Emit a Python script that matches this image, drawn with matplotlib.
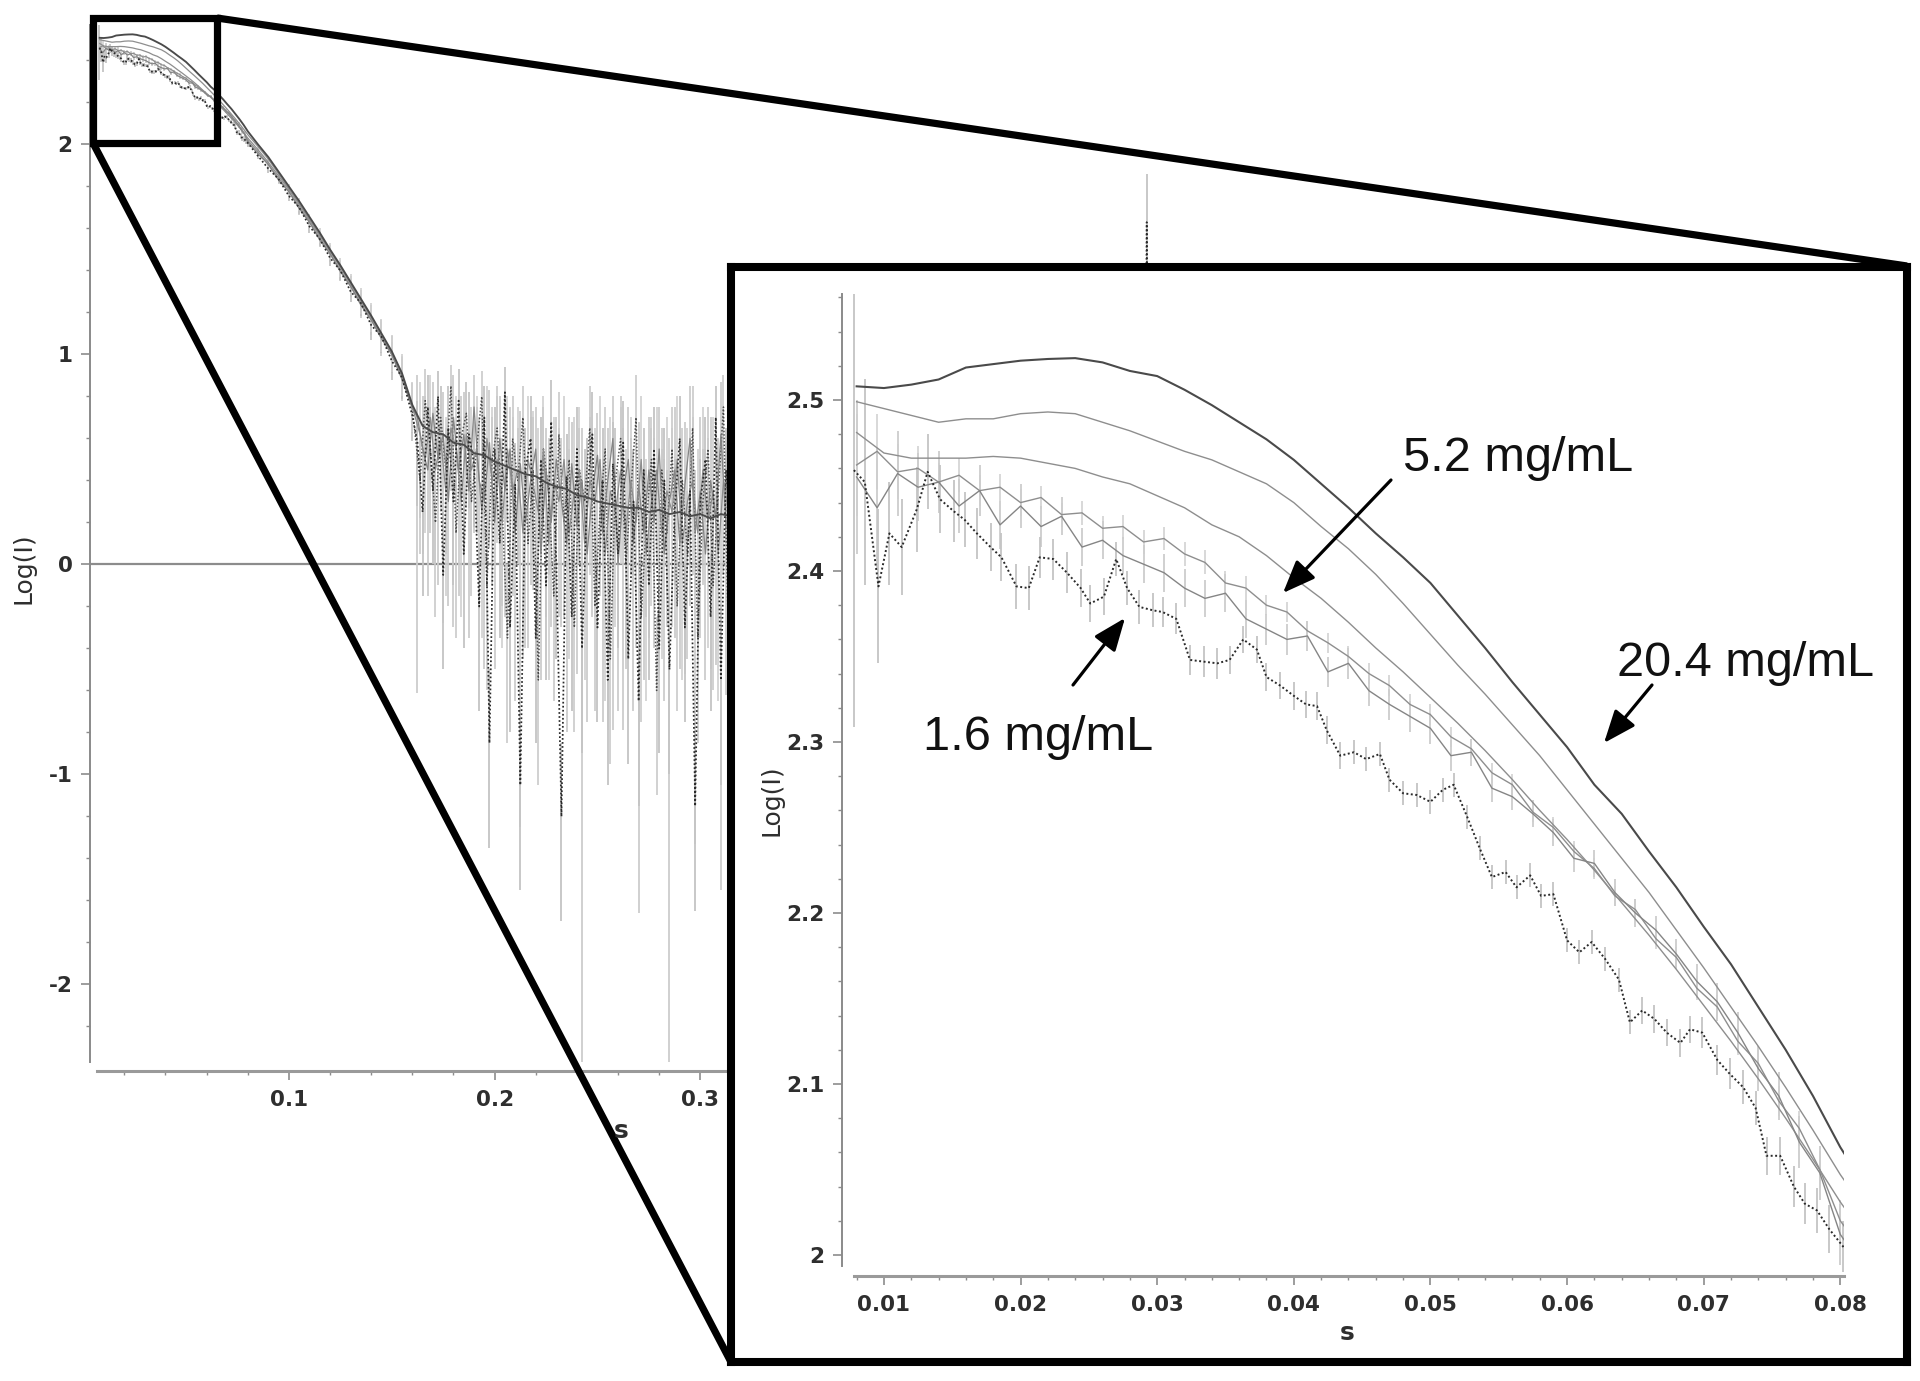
import numpy as np
import matplotlib
matplotlib.use('Agg')
import matplotlib.pyplot as plt
from matplotlib.ticker import FixedLocator, FuncFormatter
from matplotlib.patches import Rectangle, FancyArrowPatch
from matplotlib.lines import Line2D

plt.rcParams['axes.unicode_minus'] = False
plt.rcParams['font.family'] = ['DejaVu Sans']

W, H = 1920, 1381

# ---------------- data ----------------
conc_labels = ['5.2 mg/mL', '20.4 mg/mL', '1.6 mg/mL']

# three smooth high-concentration curves (inset range)
s_smooth = np.round(0.008 + 0.002 * np.arange(37), 4)
c1 = [2.508, 2.507, 2.509, 2.512, 2.519, 2.521, 2.523, 2.524, 2.5245, 2.522,
      2.517, 2.514, 2.506, 2.497, 2.487, 2.477, 2.465, 2.451, 2.437, 2.422,
      2.408, 2.393, 2.374, 2.355, 2.335, 2.316, 2.297, 2.275, 2.258, 2.236,
      2.215, 2.192, 2.170, 2.145, 2.120, 2.093, 2.063]
c2 = [2.499, 2.495, 2.491, 2.487, 2.489, 2.489, 2.492, 2.493, 2.492, 2.487,
      2.482, 2.476, 2.470, 2.465, 2.458, 2.451, 2.440, 2.426, 2.413, 2.398,
      2.381, 2.363, 2.345, 2.328, 2.310, 2.292, 2.272, 2.252, 2.232, 2.212,
      2.190, 2.168, 2.145, 2.122, 2.098, 2.073, 2.047]
c3 = [2.481, 2.469, 2.466, 2.466, 2.466, 2.467, 2.466, 2.463, 2.460, 2.455,
      2.451, 2.444, 2.437, 2.427, 2.420, 2.409, 2.396, 2.384, 2.370, 2.355,
      2.341, 2.326, 2.311, 2.295, 2.278, 2.260, 2.243, 2.225, 2.206, 2.187,
      2.167, 2.146, 2.125, 2.103, 2.080, 2.056, 2.031]

# two intermediate curves with error bars
s_grid4 = np.round(0.008 + 0.0015 * np.arange(49), 4)
c4 = [2.462, 2.470, 2.458, 2.460, 2.452, 2.456, 2.447, 2.449, 2.440, 2.443,
      2.433, 2.434, 2.425, 2.426, 2.417, 2.419, 2.410, 2.405, 2.393, 2.390,
      2.380, 2.376, 2.365, 2.358, 2.350, 2.340, 2.333, 2.322, 2.316, 2.303,
      2.296, 2.282, 2.275, 2.259, 2.250, 2.236, 2.226, 2.210, 2.202, 2.185,
      2.174, 2.156, 2.145, 2.125, 2.112, 2.090, 2.074, 2.050, 2.020]
c4_err = [0.030, 0.022, 0.016, 0.013, 0.011, 0.010, 0.009, 0.008, 0.008, 0.007,
          0.007, 0.007, 0.007, 0.007, 0.007, 0.007, 0.007, 0.007, 0.007, 0.007,
          0.006, 0.006, 0.006, 0.006, 0.006, 0.006, 0.006, 0.006, 0.006, 0.006,
          0.006, 0.006, 0.006, 0.006, 0.006, 0.006, 0.006, 0.006, 0.006, 0.006,
          0.006, 0.007, 0.007, 0.008, 0.008, 0.009, 0.010, 0.011, 0.012]
c5 = [2.455, 2.437, 2.457, 2.449, 2.452, 2.438, 2.447, 2.427, 2.438, 2.426,
      2.432, 2.414, 2.418, 2.409, 2.404, 2.399, 2.390, 2.384, 2.387, 2.372,
      2.366, 2.360, 2.362, 2.341, 2.346, 2.330, 2.322, 2.315, 2.308, 2.292,
      2.294, 2.273, 2.268, 2.258, 2.247, 2.232, 2.229, 2.212, 2.200, 2.190,
      2.176, 2.160, 2.148, 2.130, 2.109, 2.093, 2.066, 2.048, 2.012]
c5_err = [0.045, 0.035, 0.025, 0.020, 0.018, 0.016, 0.015, 0.014, 0.013, 0.012,
          0.011, 0.011, 0.011, 0.011, 0.011, 0.011, 0.011, 0.011, 0.011, 0.011,
          0.009, 0.009, 0.009, 0.009, 0.009, 0.009, 0.009, 0.009, 0.009, 0.009,
          0.008, 0.008, 0.008, 0.008, 0.008, 0.008, 0.008, 0.008, 0.008, 0.008,
          0.009, 0.010, 0.011, 0.012, 0.013, 0.014, 0.015, 0.016, 0.018]

# lowest concentration (1.6 mg/mL), dotted
s6 = [0.0078, 0.0086, 0.0096, 0.0104, 0.0113, 0.0124, 0.0132, 0.0141, 0.0151, 0.0159,
      0.0168, 0.0178, 0.0186, 0.0197, 0.0206, 0.0214, 0.0224, 0.0234, 0.0244, 0.0251,
      0.0261, 0.0270, 0.0278, 0.0287, 0.0297, 0.0304, 0.0314, 0.0324, 0.0334, 0.0344,
      0.0353, 0.0363, 0.0373, 0.0380, 0.0390, 0.0400, 0.0409, 0.0417, 0.0424, 0.0434,
      0.0444, 0.0453, 0.0463, 0.0470, 0.0480, 0.0490, 0.0500, 0.0509, 0.0517, 0.0527,
      0.0536, 0.0545, 0.0555, 0.0563, 0.0573, 0.0581, 0.0590, 0.0600, 0.0609, 0.0618,
      0.0628, 0.0638, 0.0646, 0.0655, 0.0664, 0.0673, 0.0683, 0.0690, 0.0699, 0.0710,
      0.0719, 0.0729, 0.0738, 0.0746, 0.0756, 0.0766, 0.0774, 0.0783, 0.0792, 0.0802]
c6 = [2.459, 2.452, 2.391, 2.422, 2.414, 2.436, 2.458, 2.442, 2.435, 2.430,
      2.422, 2.414, 2.408, 2.391, 2.390, 2.408, 2.407, 2.399, 2.390, 2.381,
      2.385, 2.407, 2.390, 2.379, 2.377, 2.376, 2.372, 2.348, 2.347, 2.346,
      2.348, 2.360, 2.354, 2.338, 2.333, 2.327, 2.322, 2.321, 2.307, 2.292,
      2.294, 2.290, 2.293, 2.278, 2.270, 2.269, 2.265, 2.272, 2.275, 2.256,
      2.238, 2.221, 2.224, 2.215, 2.222, 2.210, 2.211, 2.184, 2.177, 2.183,
      2.173, 2.161, 2.136, 2.143, 2.138, 2.130, 2.124, 2.132, 2.130, 2.114,
      2.106, 2.098, 2.086, 2.058, 2.058, 2.040, 2.030, 2.026, 2.015, 2.005]
c6_err = [0.150, 0.060, 0.045, 0.030, 0.028, 0.025, 0.022, 0.020, 0.018, 0.016,
          0.015, 0.014, 0.014, 0.013, 0.013, 0.012, 0.012, 0.012, 0.011, 0.011,
          0.011, 0.010, 0.010, 0.010, 0.010, 0.009, 0.009, 0.009, 0.009, 0.009,
          0.008, 0.008, 0.008, 0.008, 0.008, 0.008, 0.008, 0.008, 0.008, 0.008,
          0.007, 0.007, 0.007, 0.007, 0.007, 0.007, 0.007, 0.007, 0.007, 0.007,
          0.007, 0.007, 0.007, 0.007, 0.007, 0.007, 0.007, 0.007, 0.007, 0.007,
          0.007, 0.007, 0.007, 0.008, 0.008, 0.008, 0.008, 0.008, 0.009, 0.009,
          0.009, 0.010, 0.010, 0.011, 0.011, 0.012, 0.012, 0.013, 0.014, 0.015]

# steep part of the curve (main plot only)
s_mid = np.round(0.085 + 0.005 * np.arange(16), 4)
mid1 = [2.00, 1.94, 1.87, 1.80, 1.73, 1.655, 1.58, 1.50, 1.425, 1.345, 1.265, 1.185, 1.10, 1.015, 0.91, 0.76]
mid2 = [1.99, 1.93, 1.86, 1.79, 1.72, 1.645, 1.57, 1.495, 1.42, 1.34, 1.26, 1.18, 1.095, 1.01, 0.905, 0.755]
mid3 = [1.975, 1.915, 1.85, 1.785, 1.715, 1.64, 1.565, 1.49, 1.415, 1.335, 1.255, 1.175, 1.09, 1.005, 0.90, 0.75]
mid4 = [1.965, 1.905, 1.84, 1.775, 1.705, 1.63, 1.555, 1.48, 1.405, 1.325, 1.245, 1.165, 1.085, 1.00, 0.895, 0.745]
mid5 = [1.955, 1.905, 1.83, 1.775, 1.695, 1.63, 1.545, 1.48, 1.395, 1.325, 1.235, 1.165, 1.075, 1.00, 0.88, 0.745]
mid6 = [1.945, 1.885, 1.835, 1.755, 1.70, 1.61, 1.55, 1.46, 1.40, 1.30, 1.245, 1.14, 1.085, 0.97, 0.89, 0.71]
mid_err = [0.015, 0.02, 0.02, 0.025, 0.03, 0.03, 0.035, 0.04, 0.045, 0.05, 0.06, 0.07, 0.08, 0.09, 0.10, 0.12]

# noisy high-s region
s_tail_a = np.round(0.165 + 0.005 * np.arange(31), 4)
tail_a = [0.66, 0.63, 0.62, 0.58, 0.57, 0.53, 0.52, 0.49, 0.47, 0.45,
          0.43, 0.42, 0.39, 0.37, 0.36, 0.33, 0.32, 0.30, 0.29, 0.28,
          0.27, 0.27, 0.25, 0.26, 0.24, 0.25, 0.23, 0.24, 0.22, 0.24, 0.23]

s_tail = np.round(0.1625 + 0.0025 * np.arange(62), 5)
s_tail2 = np.round(0.16375 + 0.0025 * np.arange(62), 5)
tail_b = [0.70, 0.55, 0.45, 0.72, 0.50, 0.62, 0.30, 0.70, 0.45, 0.62,
          0.35, 0.75, 0.40, 0.30, 0.58, 0.20, 0.60, 0.35, 0.55, 0.15,
          0.48, 0.20, 0.40, 0.55, 0.05, 0.45, 0.20, 0.50, 0.30, 0.10,
          0.48, 0.18, 0.40, 0.05, 0.35, 0.52, 0.15, 0.40, 0.60, 0.00,
          0.35, 0.50, 0.10, 0.38, 0.15, 0.45, 0.20, 0.55, 0.05, 0.30,
          0.45, 0.10, 0.38, 0.60, 0.15, 0.35, 0.05, 0.40, 0.22, 0.62,
          0.18, 0.30]
tail_b_lo = [1.31, 0.5, 0.6, 0.5, 0.6, 0.9, 0.5, 1.0, 0.6, 0.5,
             0.7, 0.6, 0.5, 0.8, 0.5, 0.7, 0.5, 0.6, 0.5, 0.8,
             1.73, 0.6, 0.5, 0.99, 0.6, 0.7, 0.5, 0.8, 0.6, 0.9,
             0.6, 0.7, 2.77, 0.8, 0.6, 0.7, 0.9, 1.19, 1.39, 0.7,
             1.14, 0.6, 0.8, 2.04, 0.7, 0.8, 0.6, 0.9, 0.7, 2.67,
             0.8, 0.6, 0.9, 0.8, 1.48, 0.7, 0.6, 0.9, 0.7, 2.17,
             0.8, 0.7]
tail_b_hi = [0.2, 0.25, 0.3, 0.15, 0.25, 0.2, 0.35, 0.2, 0.3, 0.2,
             0.35, 0.15, 0.3, 0.4, 0.25, 0.45, 0.2, 0.3, 0.2, 0.4,
             0.25, 0.35, 0.3, 0.2, 0.45, 0.2, 0.35, 0.2, 0.3, 0.4,
             0.2, 0.35, 0.25, 0.45, 0.3, 0.2, 0.35, 0.25, 0.2, 0.45,
             0.3, 0.25, 0.4, 0.3, 0.35, 0.25, 0.4, 0.2, 0.45, 0.3,
             0.3, 0.45, 0.3, 0.25, 0.3, 0.35, 0.5, 0.3, 0.4, 0.25,
             0.4, 0.3]
tail_c = [0.58, 0.25, 0.75, 0.35, 0.80, -0.05, 0.65, 0.30, 0.78, 0.05,
          0.62, 0.48, -0.20, 0.70, -0.85, 0.55, 0.10, 0.82, -0.30, 0.38,
          -1.05, 0.45, 0.60, -0.35, 0.50, -0.10, 0.68, 0.00, -1.20, 0.42,
          -0.25, 0.55, -0.40, 0.35, 0.62, -0.30, 0.40, -0.55, 0.48, 0.05,
          0.58, -0.45, 0.30, -0.65, 0.45, -0.10, 0.55, -0.40, 0.40, -0.50,
          0.25, 0.60, -0.30, 0.35, -1.15, 0.30, 0.50, -0.25, 0.70, -0.55,
          0.45, 0.10]
tail_c_lo = [0.3, 0.4, 0.3, 0.35, 0.3, 0.45, 0.3, 0.4, 0.3, 0.45,
             0.35, 0.3, 0.5, 0.3, 0.5, 0.35, 0.45, 0.3, 0.5, 0.35,
             0.5, 0.35, 0.3, 0.5, 0.35, 0.45, 0.3, 0.45, 0.5, 0.35,
             0.45, 0.3, 0.5, 0.35, 0.3, 0.45, 0.35, 0.5, 0.35, 0.45,
             0.3, 0.5, 0.35, 0.5, 0.3, 0.45, 0.35, 0.5, 0.35, 0.5,
             0.35, 0.3, 0.45, 0.35, 0.5, 0.35, 0.3, 0.45, 0.3, 0.5,
             0.35, 0.4]
tail_c_hi = [0.2, 0.25, 0.15, 0.2, 0.12, 0.3, 0.2, 0.25, 0.15, 0.3,
             0.2, 0.2, 0.3, 0.15, 0.35, 0.2, 0.3, 0.12, 0.35, 0.2,
             0.35, 0.2, 0.2, 0.35, 0.2, 0.3, 0.2, 0.3, 0.35, 0.2,
             0.3, 0.2, 0.35, 0.25, 0.2, 0.3, 0.25, 0.35, 0.2, 0.3,
             0.2, 0.35, 0.25, 0.35, 0.2, 0.3, 0.2, 0.35, 0.25, 0.35,
             0.25, 0.2, 0.3, 0.25, 0.35, 0.2, 0.2, 0.3, 0.15, 0.35,
             0.2, 0.25]
tail_d = [0.40, 0.78, 0.55, 0.20, 0.70, 0.45, 0.85, 0.15, 0.60, 0.72,
          0.30, 0.55, 0.80, -0.10, 0.50, 0.65, 0.25, -0.35, 0.60, 0.40,
          0.70, 0.10, 0.45, -0.55, 0.55, 0.35, -0.15, 0.62, 0.20, 0.50,
          -0.30, 0.45, 0.30, 0.65, -0.20, 0.25, 0.55, -0.45, 0.40, 0.60,
          0.00, 0.35, 0.70, -0.25, 0.20, 0.50, -0.60, 0.45, 0.15, 0.55,
          -0.20, 0.40, 0.05, 0.65, -0.35, 0.30, 0.55, -0.10, 0.35, 0.75,
          -0.40, 0.30]
tail_d_lo = [0.35, 0.3, 0.4, 0.45, 0.3, 0.4, 0.3, 0.5, 0.35, 0.3,
             0.45, 0.4, 0.3, 0.5, 0.35, 0.3, 0.45, 0.5, 0.35, 0.4,
             0.3, 0.5, 0.4, 0.5, 0.35, 0.4, 0.5, 0.3, 0.45, 0.35,
             0.5, 0.35, 0.45, 0.3, 0.5, 0.4, 0.35, 0.5, 0.4, 0.3,
             0.5, 0.4, 0.3, 0.5, 0.45, 0.35, 0.5, 0.35, 0.45, 0.3,
             0.5, 0.4, 0.5, 0.3, 0.5, 0.4, 0.35, 0.5, 0.4, 0.3,
             0.5, 0.4]
tail_d_hi = [0.2, 0.15, 0.2, 0.3, 0.15, 0.2, 0.1, 0.3, 0.2, 0.15,
             0.3, 0.2, 0.12, 0.35, 0.2, 0.2, 0.3, 0.35, 0.2, 0.25,
             0.15, 0.3, 0.25, 0.35, 0.2, 0.25, 0.3, 0.2, 0.3, 0.2,
             0.35, 0.2, 0.25, 0.2, 0.3, 0.25, 0.2, 0.35, 0.25, 0.2,
             0.3, 0.25, 0.2, 0.3, 0.25, 0.2, 0.35, 0.2, 0.3, 0.2,
             0.3, 0.25, 0.3, 0.2, 0.35, 0.25, 0.2, 0.3, 0.25, 0.15,
             0.35, 0.25]
tail_e = [0.62, 0.50, 0.70, 0.45, 0.60, 0.35, 0.65, 0.55, 0.30, 0.62,
          0.45, 0.55, 0.25, 0.60, 0.40, 0.50, 0.20, 0.55, 0.35, 0.45,
          0.15, 0.50, 0.38, 0.25, 0.55, 0.10, 0.40, 0.30, 0.50, 0.15,
          0.35, 0.45, 0.10, 0.40, 0.30, 0.50, 0.05, 0.35, 0.25, 0.45,
          0.15, 0.40, 0.20, 0.50, 0.05, 0.30, 0.45, 0.15, 0.35, 0.25,
          0.50, 0.10, 0.30, 0.40, 0.15, 0.45, 0.20, 0.35, 0.05, 0.40,
          0.25, 0.30]
tail_e_lo = [0.4, 0.35, 0.3, 0.45, 0.35, 0.5, 0.3, 0.4, 0.55, 0.35,
             0.45, 0.4, 0.6, 0.35, 0.5, 0.4, 0.6, 0.35, 0.5, 0.45,
             0.6, 0.4, 0.5, 0.6, 0.35, 0.65, 0.45, 0.55, 0.4, 0.6,
             0.5, 0.45, 0.65, 0.45, 0.55, 0.4, 0.7, 0.5, 0.55, 0.45,
             0.6, 0.45, 0.6, 0.4, 0.7, 0.5, 0.45, 0.6, 0.5, 0.55,
             0.4, 0.65, 0.5, 0.45, 0.6, 0.45, 0.6, 0.5, 0.7, 0.45,
             0.55, 0.5]
tail_e_hi = [0.25, 0.3, 0.2, 0.3, 0.25, 0.35, 0.2, 0.25, 0.4, 0.25,
             0.3, 0.25, 0.4, 0.25, 0.35, 0.3, 0.4, 0.25, 0.35, 0.3,
             0.4, 0.3, 0.35, 0.4, 0.25, 0.45, 0.3, 0.35, 0.3, 0.4,
             0.35, 0.3, 0.45, 0.3, 0.35, 0.3, 0.45, 0.35, 0.4, 0.3,
             0.4, 0.3, 0.4, 0.3, 0.45, 0.35, 0.3, 0.4, 0.35, 0.4,
             0.3, 0.45, 0.35, 0.3, 0.4, 0.3, 0.4, 0.35, 0.45, 0.3,
             0.35, 0.35]
s_far = [0.33, 0.36, 0.39, 0.42, 0.45, 0.48, 0.51, 0.5162, 0.5170, 0.5178, 0.53, 0.56, 0.60]
far_c = [0.20, 0.05, 0.25, 0.10, 0.15, 0.00, 0.20, 0.30, 1.63, 0.25, 0.10, 0.05, 0.10]
far_c_lo = [0.40, 0.45, 0.40, 0.50, 0.45, 0.50, 0.40, 0.45, 0.60, 0.45, 0.50, 0.45, 0.50]
far_c_hi = [0.30, 0.30, 0.35, 0.30, 0.30, 0.35, 0.30, 0.30, 0.23, 0.30, 0.30, 0.30, 0.30]

main_xticks = [0.1, 0.2, 0.3, 0.4, 0.5, 0.6, 0.7]
main_yticks = [-2, -1, 0, 1, 2]
inset_xticks = [0.01, 0.02, 0.03, 0.04, 0.05, 0.06, 0.07, 0.08]
inset_yticks = [2.0, 2.1, 2.2, 2.3, 2.4, 2.5]

# ---------------- assemble series ----------------
S1 = np.concatenate([s_smooth, s_mid, s_tail_a]); Y1 = np.concatenate([c1, mid1, tail_a])
S2 = np.concatenate([s_smooth, s_mid]); Y2 = np.concatenate([c2, mid2])
S3 = np.concatenate([s_smooth, s_mid, s_tail2]); Y3 = np.concatenate([c3, mid3, tail_e])
E3 = np.vstack([np.concatenate([np.zeros(len(c3)), mid_err, tail_e_lo]),
                np.concatenate([np.zeros(len(c3)), mid_err, tail_e_hi])])
S4 = np.concatenate([s_grid4, s_mid]); Y4 = np.concatenate([c4, mid4]); E4 = np.concatenate([c4_err, mid_err])
S4t = np.concatenate([s_mid[-1:], s_tail2]); Y4t = np.concatenate([mid4[-1:], tail_d])
E4t = np.vstack([tail_d_lo, tail_d_hi])
S5 = np.concatenate([s_grid4, s_mid, s_tail]); Y5 = np.concatenate([c5, mid5, tail_b])
E5 = np.vstack([np.concatenate([c5_err, mid_err, tail_b_lo]),
                np.concatenate([c5_err, mid_err, tail_b_hi])])
S6 = np.concatenate([s6, s_mid, s_tail, s_far]); Y6 = np.concatenate([c6, mid6, tail_c, far_c])
E6 = np.vstack([np.concatenate([c6_err, mid_err, tail_c_lo, far_c_lo]),
                np.concatenate([c6_err, mid_err, tail_c_hi, far_c_hi])])

# ---------------- figure ----------------
fig = plt.figure(figsize=(W / 100, H / 100), dpi=100)
fig.patch.set_facecolor('white')


def px(left, top, right, bottom):
    return [left / W, 1 - bottom / H, (right - left) / W, (bottom - top) / H]


AX_COL = '#8c8c8c'
TXT_COL = '#2e2e2e'
DOT = (0, (1, 1.3))


def draw_series(ax, lw_scale=1.0, tails=True):
    ax.errorbar(S4, Y4, yerr=E4, fmt='none', ecolor='#d2d2d2', elinewidth=1.2, zorder=1)
    ax.errorbar(S5, Y5, yerr=E5, fmt='none', ecolor='#cdcdcd', elinewidth=1.3, zorder=1)
    ax.errorbar(S6, Y6, yerr=E6, fmt='none', ecolor='#c4c4c4', elinewidth=1.3, zorder=1)
    if tails:
        ax.errorbar(S3, Y3, yerr=E3, fmt='none', ecolor='#d0d0d0', elinewidth=1.2, zorder=1)
        ax.errorbar(s_tail2, tail_d, yerr=E4t, fmt='none', ecolor='#c9c9c9', elinewidth=1.2, zorder=1)
        ax.plot(S4t, Y4t, color='#4a4a4a', lw=1.2 * lw_scale, ls=DOT, zorder=3)
    ax.plot(S2, Y2, color='#8e8e8e', lw=1.0 * lw_scale, zorder=3)
    ax.plot(S3, Y3, color='#8e8e8e', lw=1.0 * lw_scale, zorder=3)
    ax.plot(S4, Y4, color='#8e8e8e', lw=1.0 * lw_scale, zorder=3)
    ax.plot(S5, Y5, color='#858585', lw=1.0 * lw_scale, zorder=3)
    ax.plot(S6, Y6, color='#2a2a2a', lw=1.4 * lw_scale, ls=DOT, zorder=4)
    ax.plot(S1, Y1, color='#4a4a4a', lw=1.5 * lw_scale, zorder=5)


def style_axes(ax, xlim, ylim, xb, yb, xmaj, ymaj, xmin, ymin):
    ax.set_xlim(*xlim)
    ax.set_ylim(*ylim)
    for sp in ['top', 'right']:
        ax.spines[sp].set_visible(False)
    ax.spines['left'].set_bounds(*yb)
    ax.spines['bottom'].set_bounds(*xb)
    ax.spines['left'].set_color('#8a8a8a')
    ax.spines['left'].set_linewidth(1.4)
    ax.spines['bottom'].set_color('#9a9a9a')
    ax.spines['bottom'].set_linewidth(2.2)
    ax.xaxis.set_major_locator(FixedLocator(xmaj))
    ax.yaxis.set_major_locator(FixedLocator(ymaj))
    ax.xaxis.set_minor_locator(FixedLocator(xmin))
    ax.yaxis.set_minor_locator(FixedLocator(ymin))
    fmt = FuncFormatter(lambda v, p: f"{v:g}")
    ax.xaxis.set_major_formatter(fmt)
    ax.yaxis.set_major_formatter(fmt)
    ax.tick_params(which='major', direction='out', length=6.5, width=1.2, color=AX_COL,
                   labelsize=15.5, labelcolor=TXT_COL)
    ax.tick_params(which='minor', direction='out', length=3.0, width=1.0, color=AX_COL)
    ax.tick_params(axis='y', which='major', pad=6)
    ax.tick_params(axis='x', which='major', pad=7)
    for lab in ax.get_xticklabels() + ax.get_yticklabels():
        lab.set_fontweight('bold')
    ax.patch.set_alpha(0)


# main axes
ax = fig.add_axes(px(90, 24.8, 1626, 1071), zorder=1)
ax.axhline(0, color='#8c8c8c', lw=1.6, zorder=0.5)
draw_series(ax, 0.9, tails=True)
mx_min = [round(v, 2) for v in np.arange(0.02, 0.75, 0.02) if abs(v * 10 - round(v * 10)) > 1e-6]
my_min = [round(v, 1) for v in np.arange(-2.2, 2.5, 0.2) if abs(v - round(v)) > 1e-6]
style_axes(ax, (0.0033, 0.75), (-2.412, 2.57), (0.0067, 0.75), (-2.37, 2.57),
           main_xticks, main_yticks, mx_min, my_min)

# inset frame
frame = fig.add_axes(px(731, 267, 1907, 1362), zorder=2)
frame.set_facecolor('white')
frame.set_xticks([]); frame.set_yticks([])
for sp in frame.spines.values():
    sp.set_linewidth(5.8)
    sp.set_color('black')

# inset plot
ins = fig.add_axes(px(842, 294, 1844.4, 1276), zorder=3)
draw_series(ins, 1.0, tails=False)
ix_min = [round(v, 3) for v in np.arange(0.008, 0.0805, 0.002) if abs(v * 100 - round(v * 100)) > 1e-6]
iy_min = [round(v, 2) for v in np.arange(2.0, 2.561, 0.02) if abs(v * 10 - round(v * 10)) > 1e-6]
style_axes(ins, (0.00693, 0.0803), (1.9877, 2.562), (0.0078, 0.0803), (1.9934, 2.562),
           inset_xticks, inset_yticks, ix_min, iy_min)

# overlay (pixel coordinates) for zoom box, connectors, labels and arrows
ov = fig.add_axes([0, 0, 1, 1], zorder=10)
ov.set_xlim(0, W)
ov.set_ylim(H, 0)
ov.axis('off')
ov.patch.set_alpha(0)

ov.add_patch(Rectangle((93, 18), 124, 125, fill=False, lw=5.2, ec='black', joinstyle='miter'))
ov.add_line(Line2D([217, 1907], [18, 266], color='black', lw=5.2, solid_capstyle='butt'))
ov.add_line(Line2D([93, 731], [143, 1362], color='black', lw=5.2, solid_capstyle='butt'))

lab_kw = dict(fontsize=18, color=TXT_COL)
ov.text(24, 568, 'Log(I)', rotation=90, ha='center', va='center', **lab_kw)
ov.text(621, 1131, 's', ha='center', va='center', fontweight='bold', **lab_kw)
ov.text(771, 800, 'Log(I)', rotation=90, ha='center', va='center', **lab_kw)
ov.text(1347, 1333, 's', ha='center', va='center', fontweight='bold', **lab_kw)

ann_kw = dict(fontsize=35, family=['Liberation Sans', 'DejaVu Sans'], color='#111111',
              ha='left', va='baseline')
ov.text(1403, 471, conc_labels[0], **ann_kw)
ov.text(1617, 676, conc_labels[1], **ann_kw)
ov.text(923, 750, conc_labels[2], **ann_kw)

for (x0, y0), (x1, y1) in [((1391, 480), (1283, 593)),
                           ((1073, 685), (1125, 618)),
                           ((1652, 685), (1604, 743))]:
    ov.add_patch(FancyArrowPatch((x0, y0), (x1, y1),
                                 arrowstyle='-|>,head_length=0.8,head_width=0.32',
                                 mutation_scale=25, lw=2.3, color='black',
                                 shrinkA=0, shrinkB=0))

fig.savefig('out.png', dpi=100, facecolor='white')
